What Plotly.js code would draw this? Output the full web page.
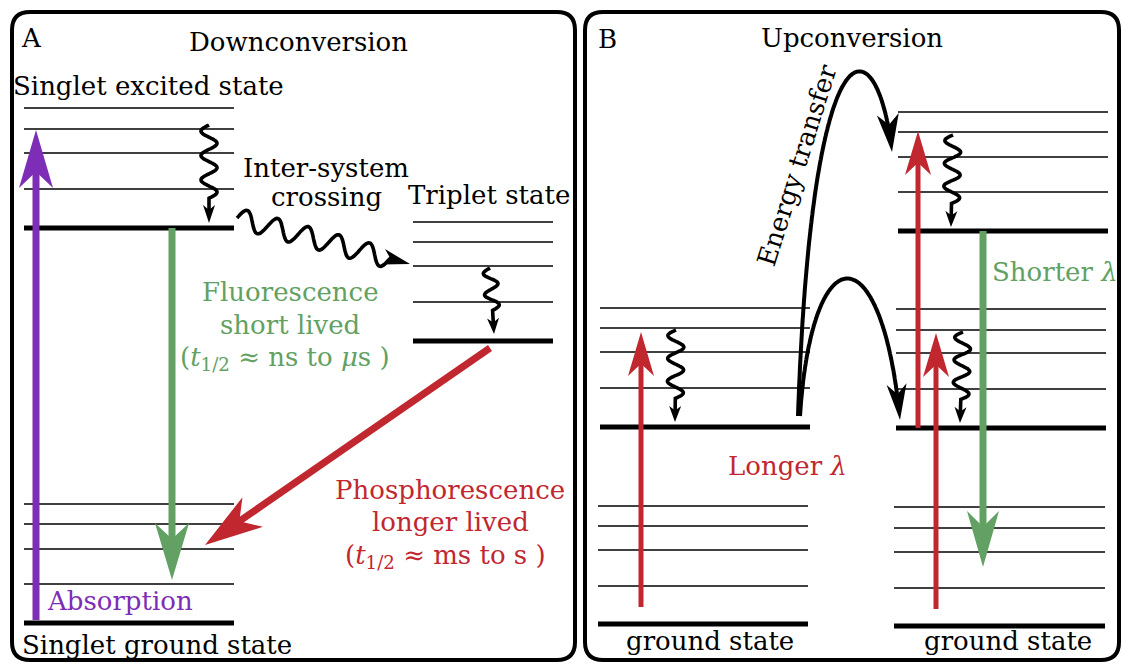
<!DOCTYPE html>
<html><head><meta charset="utf-8">
<script src="https://cdn.plot.ly/plotly-3.0.1.min.js"></script>
<style>html,body{margin:0;padding:0;background:#fff}#chart{width:1123px;height:664px}</style>
</head><body><div id="chart"></div>
<script>
// Energy levels of each manifold (drawing units, y grows downward; last entry = lowest, thick level)
const singletExcited = [108, 129, 153, 189, 228];
const tripletLevels  = [222, 242, 266, 302, 341];
const singletGround  = [504, 524, 549, 584, 623];
const donorTriplet   = [308, 328, 352, 388, 427];
const donorGround    = [506, 526, 550, 586, 624];
const emitterSinglet = [112, 132, 157, 192, 231];
const emitterTriplet = [309, 330, 353, 389, 428];
const emitterGround  = [507, 528, 552, 588, 626];

const PURPLE = '#7e2db6', GREEN = '#62a163', RED = '#c1272f', INK = '#000000';
const FONT = 'DejaVu Serif';

// manifold table: level ladder + horizontal extent
const manifolds = [
  {levels: singletExcited, x0: 24,  x1: 234},
  {levels: tripletLevels,  x0: 413, x1: 553},
  {levels: singletGround,  x0: 24,  x1: 234},
  {levels: donorTriplet,   x0: 600, x1: 810},
  {levels: donorGround,    x0: 598, x1: 808},
  {levels: emitterSinglet, x0: 898, x1: 1108},
  {levels: emitterTriplet, x0: 896, x1: 1106},
  {levels: emitterGround,  x0: 894, x1: 1105}
];

const shapes = [];

function roundRect(x0, y0, x1, y1, r) {
  return `M${x0+r},${y0} L${x1-r},${y0} Q${x1},${y0} ${x1},${y0+r} L${x1},${y1-r} Q${x1},${y1} ${x1-r},${y1} ` +
         `L${x0+r},${y1} Q${x0},${y1} ${x0},${y1-r} L${x0},${y0+r} Q${x0},${y0} ${x0+r},${y0} Z`;
}
// panel frames
shapes.push({type: 'path', path: roundRect(12, 12, 575, 660, 18), line: {color: INK, width: 4}});
shapes.push({type: 'path', path: roundRect(585, 12, 1119, 660, 18), line: {color: INK, width: 4}});

// level ladders
manifolds.forEach(m => {
  m.levels.forEach((y, i) => {
    const thick = i === m.levels.length - 1;
    shapes.push({type: 'line', x0: m.x0, x1: m.x1, y0: y, y1: y,
      line: {color: INK, width: thick ? 5 : 1.6}});
  });
});

// swept-back arrow head; returns the point where the shaft should stop
function arrowHead(tx, ty, ux, uy, len, hw, color) {
  const px = -uy, py = ux;
  const bx = tx - ux*len, by = ty - uy*len;
  const nx = tx - ux*len*0.72, ny = ty - uy*len*0.72;
  shapes.push({type: 'path', fillcolor: color, line: {width: 0},
    path: `M${tx},${ty} L${bx+px*hw},${by+py*hw} L${nx},${ny} L${bx-px*hw},${by-py*hw} Z`});
  return [tx - ux*len*0.6, ty - uy*len*0.6];
}

function straightArrow(a, color, width, len, hw) {
  const dx = a.x1 - a.x0, dy = a.y1 - a.y0, L = Math.hypot(dx, dy);
  const ux = dx/L, uy = dy/L;
  const n = arrowHead(a.x1, a.y1, ux, uy, len, hw, color);
  shapes.push({type: 'line', x0: a.x0, y0: a.y0, x1: n[0], y1: n[1], line: {color, width}});
}

function wavyArrow(w) {
  const dx = w.x1 - w.x0, dy = w.y1 - w.y0, L = Math.hypot(dx, dy);
  const ux = dx/L, uy = dy/L, px = -uy, py = ux;
  const head = w.head || 16, hw = w.hw || 6;
  const waveLen = L - head*0.6 - (w.tail || 14);
  const pts = [];
  const N = 160;
  for (let i = 0; i <= N; i++) {
    const s = waveLen * i / N;
    const off = w.amp * Math.sin(2*Math.PI*w.periods*s/waveLen) * (w.flip ? -1 : 1);
    pts.push([w.x0 + ux*s + px*off, w.y0 + uy*s + py*off]);
  }
  const n = arrowHead(w.x1, w.y1, ux, uy, head, hw, INK);
  pts.push(n);
  shapes.push({type: 'path', line: {color: INK, width: 3.6},
    path: 'M' + pts.map(p => p[0].toFixed(1) + ',' + p[1].toFixed(1)).join(' L')});
}

function bezierArrow(b) {
  const pt = t => {
    const s = 1 - t;
    return [s*s*s*b.p0[0] + 3*s*s*t*b.c1[0] + 3*s*t*t*b.c2[0] + t*t*t*b.p3[0],
            s*s*s*b.p0[1] + 3*s*s*t*b.c1[1] + 3*s*t*t*b.c2[1] + t*t*t*b.p3[1]];
  };
  const tip = b.p3;
  const dx = b.p3[0] - b.c2[0], dy = b.p3[1] - b.c2[1], L = Math.hypot(dx, dy);
  const ux = dx/L, uy = dy/L;
  const pts = [];
  for (let i = 0; i <= 200; i++) {
    const p = pt(i/200);
    if (Math.hypot(p[0]-tip[0], p[1]-tip[1]) < b.len*0.6) break;
    pts.push(p);
  }
  shapes.push({type: 'path', line: {color: INK, width: 4},
    path: 'M' + pts.map(p => p[0].toFixed(1) + ',' + p[1].toFixed(1)).join(' L')});
  arrowHead(tip[0], tip[1], ux, uy, b.len, b.hw, INK);
}

// radiative transitions
straightArrow({x0: 36, y0: 620, x1: 36, y1: 130}, PURPLE, 7, 58, 17);          // absorption
straightArrow({x0: 172, y0: 228, x1: 172, y1: 580}, GREEN, 7, 57, 17);         // fluorescence
straightArrow({x0: 490, y0: 348, x1: 205, y1: 545}, RED, 7, 58, 18);           // phosphorescence
straightArrow({x0: 641, y0: 607, x1: 641, y1: 332}, RED, 5, 44, 13);           // donor absorption
straightArrow({x0: 918, y0: 428, x1: 918, y1: 131}, RED, 5, 44, 13);           // emitter T->S
straightArrow({x0: 936, y0: 609, x1: 936, y1: 333}, RED, 5, 44, 13);           // emitter S0->T
straightArrow({x0: 983, y0: 231, x1: 983, y1: 567}, GREEN, 7, 56, 16);         // upconverted emission

// non-radiative relaxation
wavyArrow({x0: 209, y0: 125, x1: 209, y1: 223, periods: 3, amp: 8, head: 18, hw: 6});
wavyArrow({x0: 237, y0: 218, x1: 410, y1: 264, periods: 5, amp: 10, head: 28, hw: 8, tail: 4, flip: true});
wavyArrow({x0: 490, y0: 268, x1: 494, y1: 334, periods: 2, amp: 7, head: 16, hw: 6});
wavyArrow({x0: 676, y0: 330, x1: 675, y1: 422, periods: 3, amp: 8, head: 16, hw: 6});
wavyArrow({x0: 953, y0: 135, x1: 951, y1: 227, periods: 3, amp: 8, head: 16, hw: 6});
wavyArrow({x0: 963, y0: 332, x1: 960, y1: 423, periods: 3, amp: 8, head: 16, hw: 6});

// energy-transfer arcs
bezierArrow({p0: [798, 416], c1: [812, 5], c2: [878, 25], p3: [892, 152], len: 38, hw: 11});
bezierArrow({p0: [800, 416], c1: [812, 232], c2: [882, 232], p3: [900, 420], len: 36, hw: 10});

// labels
const labelText  = ['A', 'Downconversion', 'Singlet excited state', 'Inter-system', 'crossing', 'Triplet state',
  'Fluorescence', 'short lived', '(<i>t</i><sub>1/2</sub> ≈ ns to <i>μ</i>s )',
  'Phosphorescence', 'longer lived', '(<i>t</i><sub>1/2</sub> ≈ ms to s )',
  'Absorption', 'Singlet ground state',
  'B', 'Upconversion', 'ground state', 'ground state', 'Longer <i>λ</i>', 'Shorter <i>λ</i>', 'Energy transfer'];
const labelX     = [31, 298, 148, 326, 326, 489, 290, 290, 285, 450, 450, 445, 120, 157, 607, 852, 710, 1008, 787, 1055, 797];
const labelY     = [38, 42, 86, 168, 197, 195, 292, 325, 358, 490, 522, 556, 601, 645, 39, 38, 641, 641, 466, 272, 165];
const labelColor = [INK, INK, INK, INK, INK, INK, GREEN, GREEN, GREEN, RED, RED, RED, PURPLE, INK,
  INK, INK, INK, INK, RED, GREEN, INK];
const labelAngle = [0,0,0,0,0,0,0,0,0,0,0,0,0,0,0,0,0,0,0,0,-72.5];
const labelSize  = [26, 26, 26, 26, 26, 26, 26, 26, 26, 26, 26, 26, 26, 26, 26, 26, 26, 26, 26, 26, 26];

const annotations = labelText.map((t, i) => ({
  x: labelX[i], y: labelY[i], xref: 'x', yref: 'y', text: t, showarrow: false,
  xanchor: 'center', yanchor: 'middle', textangle: labelAngle[i],
  font: {family: FONT, size: labelSize[i], color: labelColor[i]}
}));

const layout = {
  width: 1123, height: 664,
  margin: {l: 0, r: 0, t: 0, b: 0},
  paper_bgcolor: '#ffffff', plot_bgcolor: '#ffffff',
  xaxis: {range: [0, 1123], visible: false, fixedrange: true},
  yaxis: {range: [664, 0], visible: false, fixedrange: true},
  showlegend: false,
  shapes, annotations
};

Plotly.newPlot('chart', [{x: [], y: [], type: 'scatter', mode: 'lines', hoverinfo: 'skip'}], layout,
  {staticPlot: true, displayModeBar: false});
</script>
</body></html>
